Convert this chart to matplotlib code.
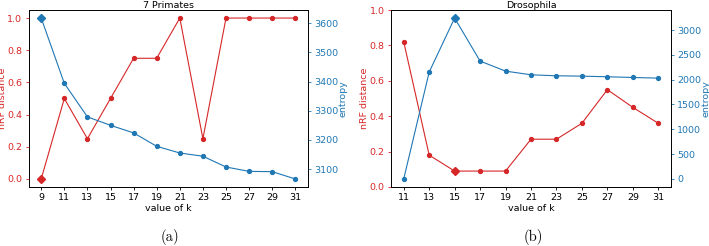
import matplotlib
matplotlib.use("Agg")
import matplotlib.pyplot as plt

k_a = [9, 11, 13, 15, 17, 19, 21, 23, 25, 27, 29, 31]
nrf_a = [0.0, 0.5, 0.25, 0.5, 0.75, 0.75, 1.0, 0.25, 1.0, 1.0, 1.0, 1.0]
ent_a = [3618, 3394, 3279, 3250, 3224, 3178, 3155, 3144, 3107, 3092, 3091, 3066]
best_a = 9

k_b = [11, 13, 15, 17, 19, 21, 23, 25, 27, 29, 31]
nrf_b = [0.82, 0.18, 0.09, 0.09, 0.09, 0.27, 0.27, 0.36, 0.55, 0.45, 0.36]
ent_b = [0, 2152, 3241, 2374, 2172, 2098, 2078, 2071, 2058, 2044, 2031]
best_b = 15

titles = ["7 Primates", "Drosophila"]
captions = ["(a)", "(b)"]

RED = "#d62728"
BLUE = "#1f77b4"
FS = 6.8

W, H = 709, 246
fig = plt.figure(figsize=(W / 100, H / 100), dpi=100)

boxes = [(28.5, 10, 308, 187), (391, 10, 671, 187)]
data = [(k_a, nrf_a, ent_a, best_a, None), (k_b, nrf_b, ent_b, best_b, (0, 1))]

for i, ((x0, y0, x1, y1), (k, nrf, ent, best, ylim)) in enumerate(zip(boxes, data)):
    ax = fig.add_axes([x0 / W, 1 - y1 / H, (x1 - x0) / W, (y1 - y0) / H])
    ax.plot(k, nrf, color=RED, lw=0.8, marker="o", ms=2.8)
    bi = k.index(best)
    ax.plot([k[bi]], [nrf[bi]], color=RED, marker="D", ms=4.5, ls="none")
    if ylim:
        ax.set_ylim(*ylim)
    ax.set_xticks(k)
    ax.set_xlabel("value of k", fontsize=FS, labelpad=1)
    ax.set_ylabel("nRF distance", color=RED, fontsize=FS, labelpad=0.3)
    ax.tick_params(axis="y", colors=RED, labelsize=FS, length=2.5, width=0.6, pad=2)
    ax.tick_params(axis="x", labelsize=FS, length=2.5, width=0.6, pad=2)
    ax.set_title(titles[i], fontsize=FS, pad=1.5)
    ax2 = ax.twinx()
    ax2.plot(k, ent, color=BLUE, lw=0.8, marker="o", ms=2.8)
    ax2.plot([k[bi]], [ent[bi]], color=BLUE, marker="D", ms=4.5, ls="none")
    ax2.set_ylabel("entropy", color=BLUE, fontsize=FS, labelpad=0.3)
    ax2.tick_params(axis="y", colors=BLUE, labelsize=FS, length=2.5, width=0.6, pad=2)
    for a in (ax, ax2):
        for s in a.spines.values():
            s.set_linewidth(0.6)
    fig.text(((x0 + x1) / 2 + 2) / W, 1 - 237 / H, captions[i], ha="center", va="center",
             fontsize=10.5, family=["cmr10", "DejaVu Serif"])

fig.savefig("out.png", dpi=100)
